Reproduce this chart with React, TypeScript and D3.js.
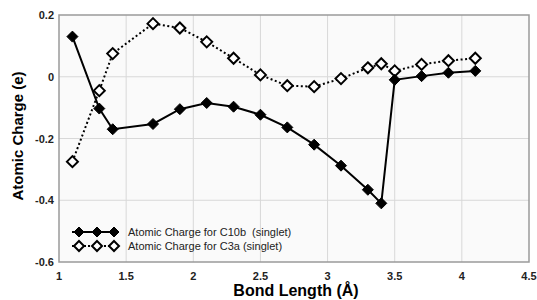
import React from 'react'
import * as d3 from 'd3'

const WIDTH = 537
const HEIGHT = 300
const LEFT = 59
const RIGHT = 529
const TOP = 15
const BOTTOM = 262
const FONT = 'Liberation Sans, Arial, sans-serif'

const bondLengths = [1.1, 1.3, 1.4, 1.7, 1.9, 2.1, 2.3, 2.5, 2.7, 2.9, 3.1, 3.3, 3.4, 3.5, 3.7, 3.9, 4.1]
const chargeC10b = [0.13, -0.103, -0.17, -0.153, -0.105, -0.085, -0.097, -0.123, -0.164, -0.22, -0.288, -0.366, -0.41, -0.01, 0.002, 0.013, 0.019]
const chargeC3a = [-0.275, -0.045, 0.075, 0.172, 0.158, 0.113, 0.06, 0.006, -0.029, -0.032, -0.006, 0.029, 0.042, 0.019, 0.04, 0.052, 0.06]
const xTicks = [1, 1.5, 2, 2.5, 3, 3.5, 4, 4.5]
const yTicks = [-0.6, -0.4, -0.2, 0, 0.2]
const legendLabels = ['Atomic Charge for C10b  (singlet)', 'Atomic Charge for C3a (singlet)']

const x = d3.scaleLinear().domain([1, 4.5]).range([LEFT, RIGHT])
const y = d3.scaleLinear().domain([-0.6, 0.2]).range([BOTTOM, TOP])

const diamond = (cx: number, cy: number, r: number) =>
  `M${cx},${cy - r}L${cx + r},${cy}L${cx},${cy + r}L${cx - r},${cy}Z`

function Series({ values, dotted }: { values: number[], dotted: boolean }) {
  const line = d3.line<number>()
    .x((_, i) => x(bondLengths[i]))
    .y(d => y(d))
  return (
    <g>
      <path d={line(values) || ''} fill="none" stroke="#000" strokeWidth={2}
        strokeDasharray={dotted ? '2,2.5' : undefined} />
      {values.map((v, i) => (
        <path key={i} d={diamond(x(bondLengths[i]), y(v), 5.5)}
          fill={dotted ? '#fff' : '#000'} stroke="#000" strokeWidth={dotted ? 2 : 1} />
      ))}
    </g>
  )
}

export default function App() {
  const fmt = (v: number) => (v === 0 ? '0' : String(v))
  return (
    <svg width={WIDTH} height={HEIGHT} style={{ position: 'absolute', left: 0, top: 0, background: '#fff' }}
      fontFamily={FONT}>
      <rect x={LEFT} y={TOP} width={RIGHT - LEFT} height={BOTTOM - TOP} fill="#fafafa" />
      {xTicks.slice(1, -1).map(t => (
        <line key={t} x1={x(t)} x2={x(t)} y1={TOP} y2={BOTTOM} stroke="#d8d8d8" strokeWidth={1} />
      ))}
      {yTicks.slice(1, -1).map(t => (
        <line key={t} x1={LEFT} x2={RIGHT} y1={y(t)} y2={y(t)} stroke="#d8d8d8" strokeWidth={1} />
      ))}
      <rect x={LEFT} y={TOP} width={RIGHT - LEFT} height={BOTTOM - TOP} fill="none" stroke="#9a9a9a" strokeWidth={1.5} />

      {xTicks.map(t => (
        <text key={t} x={x(t)} y={280} textAnchor="middle" fontSize={11} fontWeight="bold" fill="#222">{fmt(t)}</text>
      ))}
      {yTicks.map(t => (
        <text key={t} x={54} y={y(t) + 4} textAnchor="end" fontSize={11} fontWeight="bold" fill="#222">{fmt(t)}</text>
      ))}

      <text transform="translate(23,136) rotate(-90)" textAnchor="middle" fontSize={15} fontWeight="bold">Atomic Charge (e)</text>
      <text x={296} y={296} textAnchor="middle" fontSize={16} fontWeight="bold">Bond Length (Å)</text>

      <Series values={chargeC3a} dotted={true} />
      <Series values={chargeC10b} dotted={false} />

      {legendLabels.map((label, i) => {
        const ly = 232 + i * 14
        const xs = [79, 97, 114]
        return (
          <g key={label}>
            <line x1={72} x2={118} y1={ly} y2={ly} stroke="#000" strokeWidth={2}
              strokeDasharray={i === 1 ? '2,2' : undefined} />
            {xs.map(mx => (
              <path key={mx} d={diamond(mx, ly, 5)} fill={i === 1 ? '#fff' : '#000'} stroke="#000"
                strokeWidth={i === 1 ? 2 : 1} />
            ))}
            <text x={128} y={ly + 4} fontSize={11} fill="#222" style={{ whiteSpace: 'pre' }}>{label}</text>
          </g>
        )
      })}
    </svg>
  )
}
